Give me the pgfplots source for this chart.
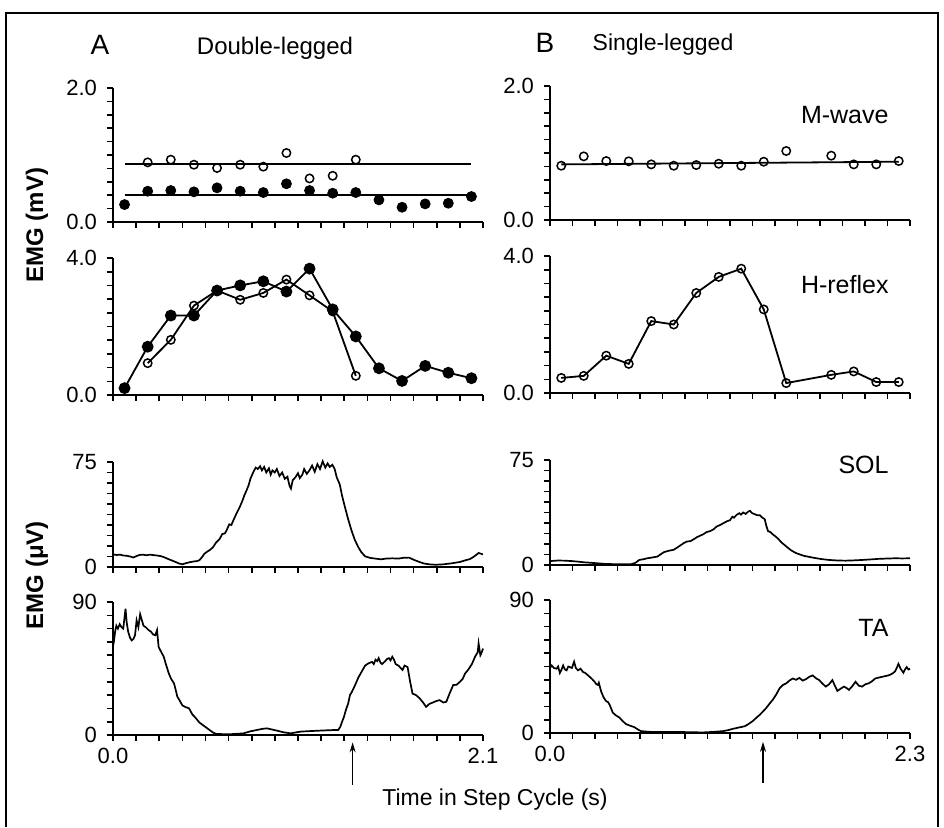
\documentclass[border=0pt]{standalone}
\usepackage{fontspec}
\setmainfont{Liberation Sans}
\usepackage{pgfplots}
\pgfplotsset{compat=1.18}
\usetikzlibrary{arrows.meta}

\tikzset{pname/.style={anchor=east, font=\fontsize{12.5}{14}\selectfont}}
\pgfplotsset{
  panel/.style={
    scale only axis,
    anchor=south west,
    axis x line*=bottom,
    axis y line*=left,
    axis line style={-, line width=0.9pt},
    tick align=outside,
    tick style={black, line width=0.8pt},
    major tick length=3pt,
    ymin=0,
    enlargelimits=false,
    clip=false,
    ticklabel style={font=\fontsize{11}{12}\selectfont},
    yticklabel style={xshift=-1.5pt},
    xticklabels={},
    extra y tick style={major tick length=4.5pt, tick style={line width=0.8pt}},
  },
  leftcol/.style={panel, xmin=0, xmax=2.1, width=185pt,
    xtick={0,0.13125,0.2625,0.39375,0.525,0.65625,0.7875,0.91875,1.05,1.18125,1.3125,1.44375,1.575,1.70625,1.8375,1.96875,2.1}},
  rightcol/.style={panel, xmin=0, xmax=2.3, width=180pt,
    xtick={0,0.14375,0.2875,0.43125,0.575,0.71875,0.8625,1.00625,1.15,1.29375,1.4375,1.58125,1.725,1.86875,2.0125,2.15625,2.3}},
  mrow/.style={height=67pt, ymax=2, ytick={0,0.2,0.4,0.6,0.8,1.0,1.2,1.4,1.6,1.8,2.0}, yticklabels={0.0,,,,,,,,,,2.0}},
  hrow/.style={height=68.5pt, ymax=4, ytick={0,0.4,0.8,1.2,1.6,2.0,2.4,2.8,3.2,3.6,4.0}, yticklabels={0.0,,,,,,,,,,4.0}},
  srow/.style={height=52.5pt, ymax=75, ytick={0,7.5,15,22.5,30,37.5,45,52.5,60,67.5,75}, yticklabels={0,,,,,,,,,,75}},
  trow/.style={height=66.5pt, ymax=90, ytick={0,9,18,27,36,45,54,63,72,81,90}, yticklabels={0,,,,,,,,,,90}},
  openpt/.style={mark=o, mark size=2.1pt, mark options={line width=0.75pt, fill=white, solid}},
  fillpt/.style={mark=*, mark size=2.5pt, mark options={solid}},
  trace/.style={line width=0.85pt, no marks},
}

\begin{document}
\begin{tikzpicture}
\path[use as bounding box] (0pt,0pt) rectangle (472pt,413.5pt);
\draw[line width=1pt] (3pt,0pt) -- (3pt,407pt) -- (469pt,407pt) -- (469pt,0pt);

% titles
\node[font=\fontsize{14}{16}\selectfont] at (50pt,391pt) {A};
\node[font=\fontsize{12}{14}\selectfont] at (137.5pt,389.5pt) {Double-legged};
\node[font=\fontsize{14}{16}\selectfont] at (272.5pt,392pt) {B};
\node[font=\fontsize{11.5}{13}\selectfont] at (331.5pt,391pt) {Single-legged};
\node[rotate=90, font=\bfseries\fontsize{12}{14}\selectfont] at (18.5pt,301pt) {EMG (mV)};
\node[rotate=90, font=\bfseries\fontsize{12}{14}\selectfont] at (18.5pt,126pt) {EMG (μV)};
\node[font=\fontsize{11.5}{13}\selectfont] at (247.5pt,13.5pt) {Time in Step Cycle (s)};

%================ LEFT COLUMN ================
% M-wave (double)
\begin{axis}[leftcol, mrow, at={(56.5pt,302.5pt)}]
\addplot[line width=0.9pt] coordinates {(0.066,0.86) (2.034,0.86)};
\addplot[line width=0.9pt] coordinates {(0.066,0.40) (2.034,0.40)};
\addplot[only marks, openpt] coordinates {
(0.1969,0.89) (0.3281,0.93) (0.4594,0.855) (0.5906,0.806) (0.7219,0.855)
(0.8531,0.826) (0.9844,1.03) (1.1156,0.65) (1.2469,0.69) (1.3781,0.93)};
\addplot[only marks, fillpt] coordinates {
(0.0656,0.26) (0.1969,0.46) (0.3281,0.47) (0.4594,0.45) (0.5906,0.51)
(0.7219,0.46) (0.8531,0.44) (0.9844,0.57) (1.1156,0.47) (1.2469,0.43)
(1.3781,0.44) (1.5094,0.33) (1.6406,0.22) (1.7719,0.27) (1.9031,0.28) (2.0344,0.38)};
\end{axis}

% H-reflex (double)
\begin{axis}[leftcol, hrow, at={(56.5pt,216pt)}]
\addplot[line width=0.9pt, openpt] coordinates {
(0.1969,0.93) (0.3281,1.61) (0.4594,2.61) (0.5906,3.05) (0.7219,2.78)
(0.8531,2.98) (0.9844,3.37) (1.1156,2.91) (1.2469,2.44) (1.3781,0.56)};
\addplot[line width=0.9pt, fillpt] coordinates {
(0.0656,0.20) (0.1969,1.41) (0.3281,2.32) (0.4594,2.32) (0.5906,3.05)
(0.7219,3.20) (0.8531,3.32) (0.9844,3.02) (1.1156,3.69) (1.2469,2.50)
(1.3781,1.71) (1.5094,0.78) (1.6406,0.41) (1.7719,0.85) (1.9031,0.65) (2.0344,0.49)};
\end{axis}

% SOL (double)
\begin{axis}[leftcol, srow, at={(56.5pt,130pt)}]
\addplot[trace] coordinates {
(0.000,9.0) (0.020,8.6) (0.040,8.8) (0.060,8.2) (0.080,8.0) (0.100,7.4) (0.115,6.8)
(0.130,7.6) (0.150,8.6) (0.170,8.8) (0.190,8.4) (0.210,8.8) (0.230,8.5) (0.250,8.2)
(0.270,7.8) (0.290,7.0) (0.317,5.5) (0.335,4.6) (0.355,3.6) (0.375,2.5) (0.394,1.9)
(0.410,2.6) (0.432,3.3) (0.455,3.9) (0.475,4.2) (0.490,4.8) (0.505,7.0) (0.519,9.5)
(0.535,11.0) (0.550,12.2) (0.567,14.0) (0.585,17.5) (0.605,20.0) (0.620,23.5)
(0.635,24.0) (0.644,26.0) (0.660,30.5) (0.672,30.0) (0.682,33.0) (0.700,38.0)
(0.710,40.5) (0.720,43.0) (0.735,47.5) (0.745,51.0) (0.759,55.0) (0.770,58.5)
(0.780,63.0) (0.797,68.0) (0.810,71.0) (0.822,70.0) (0.835,72.0) (0.845,69.0)
(0.858,71.5) (0.870,67.5) (0.885,70.5) (0.895,66.0) (0.905,69.0) (0.918,67.5)
(0.930,70.0) (0.945,65.0) (0.960,67.5) (0.975,63.0) (0.990,64.5) (1.002,58.0)
(1.010,56.0) (1.020,62.0) (1.035,64.0) (1.050,67.0) (1.060,63.5) (1.075,66.0)
(1.085,70.0) (1.100,66.5) (1.115,69.0) (1.130,72.5) (1.145,68.0) (1.160,73.5)
(1.175,70.0) (1.190,75.5) (1.205,71.0) (1.218,74.0) (1.230,71.5) (1.245,73.0)
(1.258,70.0) (1.270,64.0) (1.287,59.0) (1.300,51.0) (1.316,43.0) (1.335,34.0)
(1.354,26.0) (1.372,19.5) (1.393,14.0) (1.410,10.5) (1.431,7.6) (1.460,6.5)
(1.489,6.0) (1.520,5.5) (1.550,6.0) (1.585,6.2) (1.620,6.0) (1.650,6.6) (1.681,6.7)
(1.710,5.0) (1.739,3.6) (1.765,2.5) (1.796,1.9) (1.830,1.6) (1.873,1.9) (1.920,2.6)
(1.969,3.6) (2.000,4.8) (2.025,5.6) (2.046,7.2) (2.060,8.5) (2.075,10.0) (2.088,9.5) (2.100,9.0)};
\end{axis}

% TA (double)
\begin{axis}[leftcol, trow, at={(56.5pt,46pt)}, xticklabels={0.0,,,,,,,,,,,,,,,,2.1}]
\addplot[trace] coordinates {
(0.000,60) (0.006,64) (0.012,70) (0.019,74) (0.028,72) (0.038,75) (0.048,73) (0.058,72)
(0.066,80) (0.071,85.5) (0.078,76) (0.086,70) (0.096,66) (0.106,64) (0.116,65)
(0.125,67.5) (0.134,77.6) (0.144,73) (0.154,81.7) (0.163,78) (0.173,74) (0.185,73)
(0.202,71) (0.215,70) (0.228,68) (0.240,67.5) (0.250,71) (0.259,59.6) (0.270,57)
(0.288,53) (0.300,48) (0.317,41.6) (0.330,38) (0.346,35) (0.355,31) (0.365,26)
(0.380,23) (0.394,20) (0.410,19) (0.432,18) (0.450,14) (0.471,11.3) (0.490,8.5)
(0.509,6.8) (0.530,5) (0.548,3.4) (0.566,1.8) (0.586,0.7) (0.620,0.6) (0.663,0.5)
(0.700,0.8) (0.740,1.1) (0.780,2.5) (0.817,3.4) (0.850,4.2) (0.874,4.5) (0.900,3.8)
(0.932,2.9) (0.970,1.8) (1.009,1.1) (1.040,1.8) (1.066,2.3) (1.110,2.6) (1.162,2.9)
(1.220,3.2) (1.260,3.4) (1.278,3.4) (1.290,5.5) (1.297,7.9) (1.310,12) (1.322,17)
(1.335,21.4) (1.345,27) (1.355,29) (1.375,34) (1.393,39) (1.412,43) (1.431,47)
(1.450,48.5) (1.470,49.5) (1.480,48) (1.490,51) (1.500,50) (1.508,52) (1.518,49)
(1.527,48) (1.545,50) (1.556,51.5) (1.566,52) (1.575,50.5) (1.585,53) (1.595,51)
(1.604,48) (1.620,47) (1.643,44) (1.655,47) (1.672,46) (1.685,37) (1.700,28)
(1.720,27) (1.739,25) (1.760,22) (1.777,19) (1.795,21) (1.816,22) (1.835,23)
(1.854,23.6) (1.875,22) (1.892,22.5) (1.910,28) (1.931,33.8) (1.950,34) (1.969,36)
(1.985,38) (1.998,41.6) (2.015,44) (2.037,48) (2.055,53) (2.070,56) (2.075,62)
(2.085,54) (2.093,56) (2.100,58.5)};
\draw[-{Stealth[length=5pt,width=3pt]}, line width=0.6pt] (axis cs:1.36,-34) -- (axis cs:1.36,-5);
\end{axis}

%================ RIGHT COLUMN ================
% M-wave (single)
\begin{axis}[rightcol, mrow, at={(275pt,303.5pt)}]
\addplot[line width=0.9pt] coordinates {(0.0719,0.83) (2.2281,0.87)};
\addplot[only marks, openpt] coordinates {
(0.0719,0.81) (0.2156,0.95) (0.3594,0.88) (0.5031,0.876) (0.6469,0.83)
(0.7906,0.81) (0.9344,0.82) (1.0781,0.84) (1.2219,0.81) (1.3656,0.87)
(1.5094,1.03) (1.7969,0.96) (1.9406,0.83) (2.0844,0.83) (2.2281,0.88)};
\node[pname] at (rel axis cs:0.96,0.78) {M-wave};
\end{axis}

% H-reflex (single)
\begin{axis}[rightcol, hrow, at={(275pt,217pt)}]
\addplot[line width=0.9pt, openpt] coordinates {
(0.0719,0.44) (0.2156,0.50) (0.3594,1.09) (0.5031,0.85) (0.6469,2.10)
(0.7906,2.00) (0.9344,2.92) (1.0781,3.39) (1.2219,3.63) (1.3656,2.44)
(1.5094,0.29) (1.7969,0.53) (1.9406,0.63) (2.0844,0.32) (2.2281,0.32)};
\node[pname] at (rel axis cs:0.96,0.79) {H-reflex};
\end{axis}

% SOL (single)
\begin{axis}[rightcol, srow, at={(275pt,131pt)}]
\addplot[trace] coordinates {
(0.000,2.8) (0.011,2.9) (0.050,3.2) (0.095,3.1) (0.140,2.8) (0.179,2.4) (0.220,1.9)
(0.260,1.6) (0.306,1.2) (0.350,0.8) (0.433,0.5) (0.517,0.5) (0.545,1.5) (0.570,3.6)
(0.600,4.2) (0.622,4.8) (0.655,5.4) (0.686,6.0) (0.705,7.5) (0.728,9.2) (0.760,10.2)
(0.791,10.9) (0.820,13.0) (0.855,15.7) (0.875,16.8) (0.897,17.0) (0.920,18.5)
(0.939,19.9) (0.980,22.0) (1.000,23.5) (1.023,24.2) (1.045,25.5) (1.065,27.5)
(1.087,28.6) (1.110,30.0) (1.130,31.2) (1.150,32.0) (1.165,34.5) (1.175,33.8)
(1.192,35.8) (1.210,37.0) (1.220,36.0) (1.234,37.5) (1.250,36.5) (1.265,38.0)
(1.277,38.7) (1.292,37.0) (1.308,36.3) (1.325,35.5) (1.340,35.6) (1.355,34.0)
(1.372,32.7) (1.382,28.0) (1.393,24.2) (1.408,23.5) (1.424,21.8) (1.440,20.5)
(1.456,18.9) (1.480,16.0) (1.509,13.3) (1.540,10.5) (1.572,8.5) (1.620,6.6)
(1.678,5.3) (1.730,4.3) (1.783,3.6) (1.840,3.2) (1.889,3.1) (1.940,3.3) (1.994,3.6)
(2.050,4.0) (2.100,4.4) (2.150,4.6) (2.205,4.8) (2.250,4.7) (2.300,4.8)};
\node[pname] at (rel axis cs:0.96,0.95) {SOL};
\end{axis}

% TA (single)
\begin{axis}[rightcol, trow, at={(275pt,47pt)}, xticklabels={0.0,,,,,,,,,,,,,,,,2.3}]
\addplot[trace] coordinates {
(0.000,44) (0.011,45.7) (0.025,44) (0.042,43.5) (0.052,45) (0.063,40.6) (0.074,43)
(0.084,45.7) (0.095,43) (0.106,42.4) (0.117,45) (0.127,44.6) (0.140,44) (0.154,48.3)
(0.165,44) (0.179,42.4) (0.195,43.5) (0.211,41.3) (0.227,40.5) (0.243,39) (0.264,37)
(0.285,34.7) (0.296,33) (0.306,32.5) (0.312,34) (0.327,28) (0.343,24) (0.359,21.5)
(0.370,21) (0.380,19.3) (0.391,16.5) (0.401,13.8) (0.420,12) (0.443,10.5) (0.465,8)
(0.485,6.1) (0.510,5) (0.538,4) (0.560,2.5) (0.580,1.3) (0.630,0.8) (0.686,0.7)
(0.760,0.7) (0.833,0.7) (0.900,0.5) (0.981,0.4) (1.050,0.8) (1.108,1.3) (1.140,2)
(1.171,2.9) (1.210,3.8) (1.245,4.6) (1.270,6.2) (1.298,8.3) (1.320,10.5) (1.340,12.3)
(1.360,14.5) (1.382,17) (1.400,19.5) (1.424,22.6) (1.445,26) (1.467,30.3) (1.488,32.5)
(1.509,33.6) (1.530,35.5) (1.551,36.9) (1.572,36) (1.593,37.3) (1.614,35.5)
(1.635,36.4) (1.656,38) (1.678,39) (1.700,37) (1.720,35.8) (1.740,33.5) (1.762,31.4)
(1.783,33) (1.804,35.8) (1.820,32) (1.836,28.5) (1.857,30) (1.878,31.4) (1.894,30.5)
(1.910,29.2) (1.930,31.5) (1.952,34.7) (1.973,32) (1.994,31.4) (2.015,33) (2.036,33.6)
(2.057,35) (2.078,36.9) (2.100,37.5) (2.121,38) (2.142,38.5) (2.163,39) (2.184,40)
(2.205,41.7) (2.215,44) (2.226,46.8) (2.240,43.5) (2.258,40.8) (2.268,43) (2.279,44.6)
(2.290,43) (2.300,43.5)};
\draw[-{Stealth[length=5pt,width=3pt]}, line width=0.6pt] (axis cs:1.361,-34) -- (axis cs:1.361,-6);
\node[pname] at (rel axis cs:0.96,0.79) {TA};
\end{axis}
\end{tikzpicture}
\end{document}
